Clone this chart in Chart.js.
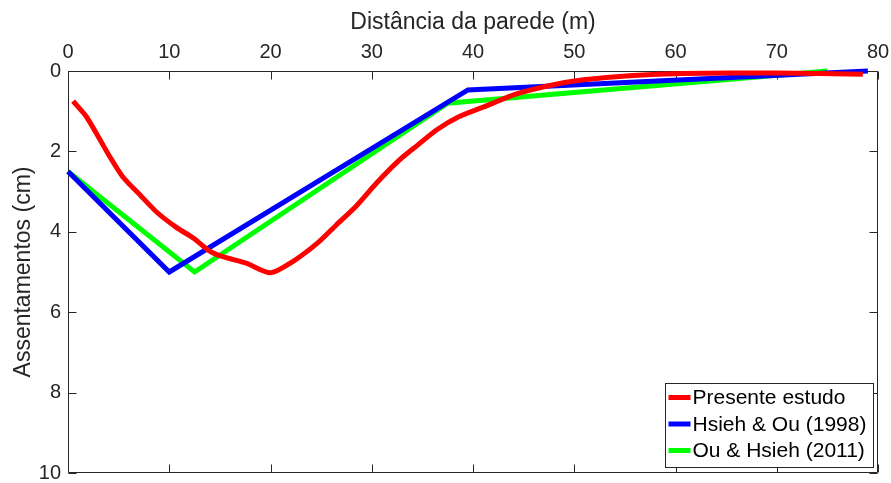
<!DOCTYPE html>
<html>
<head>
<meta charset="utf-8">
<script src="https://cdn.jsdelivr.net/npm/chart.js@4/dist/chart.umd.min.js"></script>
<style>
  html, body { margin: 0; padding: 0; background: #fff; }
  #wrap { width: 891px; height: 483px; }
</style>
</head>
<body>
<div id="wrap"><canvas id="c" width="891" height="483"></canvas></div>
<script>
// Settlement profiles behind the wall: distance (m) vs settlement (cm)
const seriesNames = ['Presente estudo', 'Hsieh & Ou (1998)', 'Ou & Hsieh (2011)'];

const distPresente = [0.5, 1.8, 2.8, 4.1, 5.4, 7.1, 8.8, 10.7, 12.4, 14.0, 15.3, 17.6, 20.0,
  22.2, 24.6, 26.5, 28.5, 30.5, 32.8, 34.5, 36.5, 38.5, 41.0, 44.3, 47.6, 50.9, 55.8, 60.7, 70.0, 78.5];
const settlePresente = [0.75, 1.13, 1.55, 2.12, 2.63, 3.08, 3.52, 3.89, 4.16, 4.48, 4.62, 4.78, 5.02,
  4.74, 4.29, 3.83, 3.35, 2.78, 2.20, 1.85, 1.45, 1.15, 0.90, 0.57, 0.36, 0.22, 0.11, 0.06, 0.05, 0.08];

const distHsieh = [0, 10, 39.5, 79];
const settleHsieh = [2.5, 5.0, 0.47, 0];

const distOu = [0, 12.5, 37.5, 75];
const settleOu = [2.5, 5.0, 0.8, 0];

const xTicks = [0, 10, 20, 30, 40, 50, 60, 70, 80];
const yTicks = [0, 2, 4, 6, 8, 10];

const colors = ['#ff0000', '#0000ff', '#00ff00'];
const axisColor = '#262626';
const FONT = 'Arial, "Liberation Sans", Helvetica, sans-serif';

function pairs(xs, ys) { return xs.map((x, i) => ({ x: x, y: ys[i] })); }

// Inward tick marks on all four sides plus the surrounding box
const boxTicks = {
  id: 'boxTicks',
  beforeDatasetsDraw(chart) {
    const { ctx, chartArea: a, scales } = chart;
    const L = Math.round(a.left) + 0.5, R = Math.round(a.right) - 0.5;
    const T = Math.round(a.top) + 0.5, B = Math.round(a.bottom) - 0.5;
    const len = 8;
    ctx.save();
    ctx.strokeStyle = axisColor;
    ctx.lineWidth = 1;
    ctx.beginPath();
    ctx.rect(L, T, R - L, B - T);
    xTicks.forEach(v => {
      const px = Math.round(scales.x.getPixelForValue(v)) + 0.5;
      ctx.moveTo(px, T); ctx.lineTo(px, T + len);
      ctx.moveTo(px, B); ctx.lineTo(px, B - len);
    });
    yTicks.forEach(v => {
      const py = Math.round(scales.y.getPixelForValue(v)) + 0.5;
      ctx.moveTo(L, py); ctx.lineTo(L + len, py);
      ctx.moveTo(R, py); ctx.lineTo(R - len, py);
    });
    ctx.stroke();
    ctx.restore();
  }
};

// Legend box in the lower right corner of the plot area
const insideLegend = {
  id: 'insideLegend',
  afterDatasetsDraw(chart) {
    const { ctx, chartArea: a } = chart;
    const w = 208, h = 84;
    const x0 = a.right - 5 - w + 0.5, y0 = a.bottom - 6 - h + 0.5;
    ctx.save();
    ctx.fillStyle = '#ffffff';
    ctx.fillRect(x0, y0, w, h);
    ctx.strokeStyle = axisColor;
    ctx.lineWidth = 1;
    ctx.strokeRect(x0, y0, w, h);
    ctx.font = '21px ' + FONT;
    ctx.textBaseline = 'middle';
    ctx.textAlign = 'left';
    chart.data.datasets.forEach((ds, i) => {
      const cy = y0 + 14 + i * 26.5;
      ctx.strokeStyle = ds.borderColor;
      ctx.lineWidth = 5;
      ctx.beginPath();
      ctx.moveTo(x0 + 3, cy);
      ctx.lineTo(x0 + 25, cy);
      ctx.stroke();
      ctx.fillStyle = '#000000';
      ctx.fillText(ds.label, x0 + 27, cy + 1);
    });
    ctx.restore();
  }
};

const lineDefaults = { borderWidth: 5, pointRadius: 0, pointHoverRadius: 0, fill: false, tension: 0, clip: false, borderJoinStyle: 'miter' };

new Chart(document.getElementById('c'), {
  type: 'line',
  data: {
    datasets: [
      Object.assign({ label: seriesNames[0], data: pairs(distPresente, settlePresente), borderColor: colors[0], backgroundColor: colors[0] }, lineDefaults, { tension: 0.25, borderJoinStyle: 'round' }),
      Object.assign({ label: seriesNames[1], data: pairs(distHsieh, settleHsieh), borderColor: colors[1], backgroundColor: colors[1] }, lineDefaults),
      Object.assign({ label: seriesNames[2], data: pairs(distOu, settleOu), borderColor: colors[2], backgroundColor: colors[2] }, lineDefaults)
    ]
  },
  options: {
    responsive: false,
    animation: false,
    events: [],
    layout: { padding: { left: 0, top: 0, right: 13, bottom: 10 } },
    plugins: { legend: { display: false }, tooltip: { enabled: false } },
    scales: {
      x: {
        type: 'linear', position: 'top', min: 0, max: 80,
        afterBuildTicks(s) { s.ticks = xTicks.map(v => ({ value: v })); },
        afterFit(s) { s.height = 71; s.paddingLeft = 0; s.paddingRight = 0; },
        grid: { display: false, drawTicks: false },
        border: { display: false },
        ticks: { color: axisColor, font: { family: FONT, size: 20 }, padding: 7, maxRotation: 0, autoSkip: false },
        title: { display: true, text: 'Distância da parede (m)', color: axisColor, font: { family: FONT, size: 23 }, padding: { top: 9, bottom: 0 } }
      },
      y: {
        type: 'linear', position: 'left', min: 0, max: 10, reverse: true,
        afterBuildTicks(s) { s.ticks = yTicks.map(v => ({ value: v })); },
        afterFit(s) { s.width = 68; s.paddingTop = 0; s.paddingBottom = 0; },
        grid: { display: false, drawTicks: false },
        border: { display: false },
        ticks: { color: axisColor, font: { family: FONT, size: 20 }, padding: 7, autoSkip: false },
        title: { display: true, text: 'Assentamentos (cm)', color: axisColor, font: { family: FONT, size: 23 }, padding: { top: 10, bottom: 0 } }
      }
    }
  },
  plugins: [boxTicks, insideLegend]
});
</script>
</body>
</html>
